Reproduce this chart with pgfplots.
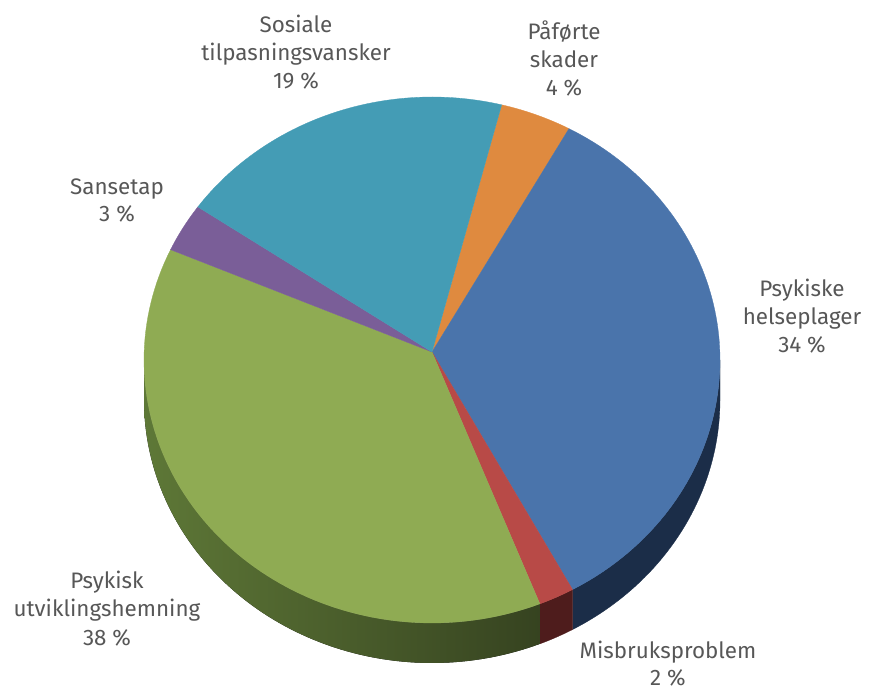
\documentclass[border=0pt]{standalone}
\usepackage{fontspec}
\setmainfont{Fira Sans}
\usepackage{pgfplots}
\pgfplotsset{compat=1.18}
\usepgfplotslibrary{fillbetween}

\definecolor{cOrange}{HTML}{DF8A3F}
\definecolor{cBlue}{HTML}{4A74AB}
\definecolor{cRed}{HTML}{B84A47}
\definecolor{cGreen}{HTML}{8FAB53}
\definecolor{cPurple}{HTML}{7A5E98}
\definecolor{cCyan}{HTML}{449CB5}
\definecolor{sBlue}{HTML}{1B2D48}
\definecolor{sRed}{HTML}{4E1C1C}
\definecolor{sGreenL}{HTML}{5E7837}
\definecolor{sGreenD}{HTML}{364320}
\definecolor{txt}{HTML}{575757}

% geometry of the pie (pixel units)
\newcommand\pcx{432}
\newcommand\pcy{360}
\newcommand\prx{288}
\newcommand\pry{263}
\newcommand\pdep{40}
\newcommand\pax{432}
\newcommand\pay{352}
\newcommand\psa{76}

% #1 cumulative percent before, #2 percent, #3 colour
\newcommand\topwedge[3]{%
  \addplot[fill=#3, draw=#3, line width=0.3pt, domain=\psa-3.6*#1-3.6*#2:\psa-3.6*#1, samples=90]
    ({\pcx+\prx*cos(x)},{\pcy-\pry*sin(x)}) -- (axis cs:\pax,\pay) -- cycle;
}
% #1 name, #2 from angle, #3 to angle, #4 fill options
\newcommand\sidewedge[4]{%
  \addplot[draw=none, name path=#1t, domain=#2:#3, samples=90]
    ({\pcx+\prx*cos(x)},{\pcy-\pry*sin(x)});
  \addplot[draw=none, name path=#1b, domain=#2:#3, samples=90]
    ({\pcx+\prx*cos(x)},{\pcy+\pdep-\pry*sin(x)});
  \addplot[#4] fill between[of=#1t and #1b];
}

\begin{document}
\begin{tikzpicture}
\begin{axis}[
  hide axis, scale only axis,
  width=876bp, height=693bp,
  xmin=0, xmax=876, ymin=0, ymax=693, y dir=reverse,
  clip=false,
]
\path (axis cs:0,0) rectangle (axis cs:876,693);

% sides (front half only): blue 34 (cum 4), red 2 (cum 38), green 38 (cum 40)
\sidewedge{bl}{\psa-3.6*38}{0}{fill=sBlue, draw=sBlue, line width=0.3pt}
\sidewedge{rd}{\psa-3.6*40}{\psa-3.6*38}{fill=sRed, draw=sRed, line width=0.3pt}
\sidewedge{gr}{-180}{\psa-3.6*40}{left color=sGreenL, right color=sGreenD, draw=none}

% top face: values in percent, clockwise from the top
\topwedge{0}{4}{cOrange}   % Påførte skader
\topwedge{4}{34}{cBlue}    % Psykiske helseplager
\topwedge{38}{2}{cRed}     % Misbruksproblem
\topwedge{40}{38}{cGreen}  % Psykisk utviklingshemning
\topwedge{78}{3}{cPurple}  % Sansetap
\topwedge{81}{19}{cCyan}   % Sosiale tilpasningsvansker

\begin{scope}[every node/.style={anchor=base, text=txt, font=\fontsize{22.5}{26}\selectfont, inner sep=0pt}]
\node at (axis cs:296,33) {Sosiale};
\node at (axis cs:296,61) {tilpasningsvansker};
\node at (axis cs:296,89) {19 \%};
\node at (axis cs:564,40) {Påførte};
\node at (axis cs:564,68) {skader};
\node at (axis cs:564,96) {4 \%};
\node at (axis cs:117,195) {Sansetap};
\node at (axis cs:117,222) {3 \%};
\node at (axis cs:802,297) {Psykiske};
\node at (axis cs:802,325) {helseplager};
\node at (axis cs:802,353) {34 \%};
\node at (axis cs:107,589) {Psykisk};
\node at (axis cs:107,617) {utviklingshemning};
\node at (axis cs:107,646) {38 \%};
\node at (axis cs:668,659) {Misbruksproblem};
\node at (axis cs:668,685) {2 \%};
\end{scope}
\end{axis}
\end{tikzpicture}
\end{document}
